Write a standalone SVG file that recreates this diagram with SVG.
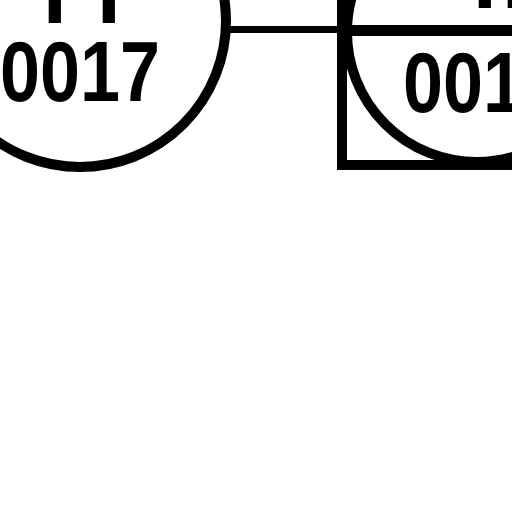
<svg xmlns="http://www.w3.org/2000/svg" width="512" height="512" viewBox="0 0 512 512">
  <style>
    .shape { fill: none; stroke: #000; stroke-width: 10; }
    .conn { stroke: #000; fill: none; }
    .lbl { font-family: "Liberation Sans", Arial, sans-serif; font-weight: bold; font-size: 85px; fill: #000; }
  </style>
  <rect width="512" height="512" fill="#fff"/>
  <g id="connectors">
    <line class="conn" x1="226" y1="29.5" x2="342" y2="29.5" stroke-width="7"/>
    <line class="conn" x1="342" y1="30.5" x2="512" y2="30.5" stroke-width="11"/>
  </g>
  <g id="node-0017">
    <circle class="shape" cx="80" cy="21" r="146"/>
    <text class="lbl" x="43 97" y="23">II</text>
    <text class="lbl" text-anchor="middle" transform="translate(80,101) scale(0.846,1)">0017</text>
  </g>
  <g id="node-001">
    <rect class="shape" x="342" y="-100" width="300" height="265"/>
    <circle class="shape" cx="477" cy="32" r="130"/>
    <text class="lbl" x="473 502" y="8">II</text>
    <text class="lbl" transform="translate(403,112) scale(0.846,1)">001</text>
  </g>
</svg>
